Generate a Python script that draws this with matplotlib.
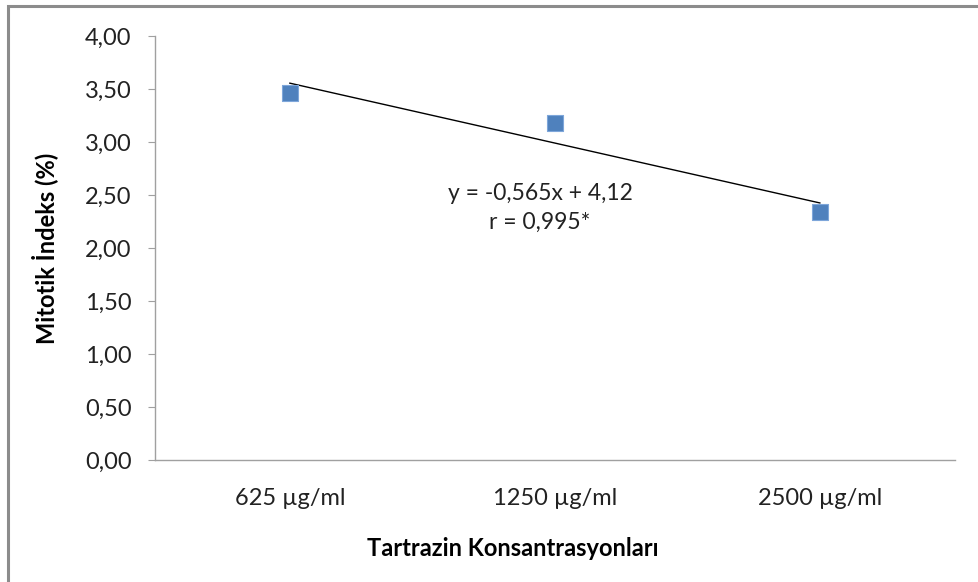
import matplotlib
matplotlib.use("Agg")
import matplotlib.pyplot as plt
from matplotlib.patches import Rectangle
from matplotlib.ticker import FuncFormatter

plt.rcParams['font.family'] = ['Lato', 'DejaVu Sans']

# veriler
kategoriler = ["625 µg/ml", "1250 µg/ml", "2500 µg/ml"]
mitotik_indeks = [3.46, 3.18, 2.34]
egim = -0.565
kesisim = 4.12
denklem = "y = -0,565x + 4,12\nr = 0,995*"
y_ticks = [0, 0.5, 1.0, 1.5, 2.0, 2.5, 3.0, 3.5, 4.0]

fig = plt.figure(figsize=(9.79, 5.82), dpi=100)
ax = fig.add_axes([155 / 979, 1 - 460 / 582, 800 / 979, 424 / 582])

x = [1, 2, 3]
ax.scatter(x, mitotik_indeks, marker="s", s=122, color="#4F81BD",
           edgecolors="#7EA6DA", linewidths=0.8, zorder=3)

# trend çizgisi
tx = [x[0], x[-1]]
ty = [egim * v + kesisim for v in tx]
ax.plot(tx, ty, color="black", linewidth=1.0, zorder=2)

ax.text(540, 582 - 208, denklem, transform=None, ha="center", va="center",
        fontsize=16.5, linespacing=1.45, color="#222222")

ax.set_xlim(0.491, 3.51)
ax.set_ylim(0, 4.0)
ax.set_xticks(x)
ax.set_xticklabels(kategoriler)
ax.set_yticks(y_ticks)
ax.yaxis.set_major_formatter(FuncFormatter(lambda v, p: f"{v:.2f}".replace(".", ",")))

for s in ["top", "right"]:
    ax.spines[s].set_visible(False)
for s in ["left", "bottom"]:
    ax.spines[s].set_color("#A0A0A0")
    ax.spines[s].set_linewidth(1.0)

ax.tick_params(axis="y", direction="out", length=5, color="#A0A0A0",
               labelsize=17, pad=12, labelcolor="#222222")
ax.tick_params(axis="x", length=0, labelsize=17, pad=20, labelcolor="#222222")

fig.text(45 / 979, 1 - 248 / 582, "Mitotik İndeks (%)", rotation=90,
         ha="center", va="center", fontsize=17, fontweight="bold")
fig.text(513 / 979, 1 - 548 / 582, "Tartrazin Konsantrasyonları",
         ha="center", va="center", fontsize=17, fontweight="bold")

# dış çerçeve
fig.patches.append(Rectangle((8 / 979, -0.05), 1.05, 1 - 6 / 582 + 0.05,
                             transform=fig.transFigure, fill=False,
                             edgecolor="#8C8C8C", linewidth=2.2))

fig.savefig("out.png", dpi=100)
